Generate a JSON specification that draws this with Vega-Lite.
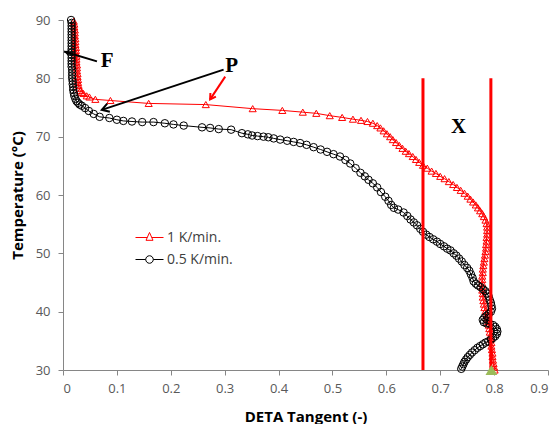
{
  "$schema": "https://vega.github.io/schema/vega-lite/v6.json",
  "width": 485,
  "height": 350,
  "autosize": {"type": "none"},
  "padding": {"left": 63, "top": 20, "right": 9, "bottom": 54},
  "background": "white",
  "datasets": {
    "series": [
      {"s":"1 K/min.","i":1,"x":0.020,"t":89.8},{"s":"1 K/min.","i":2,"x":0.021,"t":89.3},{"s":"1 K/min.","i":3,"x":0.021,"t":88.8},{"s":"1 K/min.","i":4,"x":0.022,"t":88.3},{"s":"1 K/min.","i":5,"x":0.022,"t":87.8},{"s":"1 K/min.","i":6,"x":0.022,"t":87.3},{"s":"1 K/min.","i":7,"x":0.023,"t":86.8},{"s":"1 K/min.","i":8,"x":0.023,"t":86.3},{"s":"1 K/min.","i":9,"x":0.023,"t":85.8},{"s":"1 K/min.","i":10,"x":0.024,"t":85.3},{"s":"1 K/min.","i":11,"x":0.024,"t":84.8},{"s":"1 K/min.","i":12,"x":0.024,"t":84.3},{"s":"1 K/min.","i":13,"x":0.025,"t":83.8},{"s":"1 K/min.","i":14,"x":0.025,"t":83.3},{"s":"1 K/min.","i":15,"x":0.025,"t":82.8},{"s":"1 K/min.","i":16,"x":0.026,"t":82.3},{"s":"1 K/min.","i":17,"x":0.026,"t":81.8},{"s":"1 K/min.","i":18,"x":0.026,"t":81.3},{"s":"1 K/min.","i":19,"x":0.027,"t":80.8},{"s":"1 K/min.","i":20,"x":0.027,"t":80.3},{"s":"1 K/min.","i":21,"x":0.028,"t":79.8},{"s":"1 K/min.","i":22,"x":0.028,"t":79.3},{"s":"1 K/min.","i":23,"x":0.029,"t":78.8},{"s":"1 K/min.","i":24,"x":0.030,"t":78.3},{"s":"1 K/min.","i":25,"x":0.032,"t":77.9},{"s":"1 K/min.","i":26,"x":0.035,"t":77.6},{"s":"1 K/min.","i":27,"x":0.038,"t":77.4},{"s":"1 K/min.","i":28,"x":0.044,"t":77.0},{"s":"1 K/min.","i":29,"x":0.049,"t":76.8},{"s":"1 K/min.","i":30,"x":0.060,"t":76.4},{"s":"1 K/min.","i":31,"x":0.088,"t":76.2},{"s":"1 K/min.","i":32,"x":0.159,"t":75.7},{"s":"1 K/min.","i":33,"x":0.265,"t":75.5},{"s":"1 K/min.","i":34,"x":0.352,"t":74.8},{"s":"1 K/min.","i":35,"x":0.407,"t":74.5},{"s":"1 K/min.","i":36,"x":0.445,"t":74.2},{"s":"1 K/min.","i":37,"x":0.470,"t":74.0},{"s":"1 K/min.","i":38,"x":0.495,"t":73.6},{"s":"1 K/min.","i":39,"x":0.518,"t":73.3},{"s":"1 K/min.","i":40,"x":0.538,"t":73.0},{"s":"1 K/min.","i":41,"x":0.553,"t":72.8},{"s":"1 K/min.","i":42,"x":0.565,"t":72.6},{"s":"1 K/min.","i":43,"x":0.575,"t":72.3},{"s":"1 K/min.","i":44,"x":0.583,"t":71.9},{"s":"1 K/min.","i":45,"x":0.589,"t":71.5},{"s":"1 K/min.","i":46,"x":0.595,"t":71.0},{"s":"1 K/min.","i":47,"x":0.601,"t":70.5},{"s":"1 K/min.","i":48,"x":0.607,"t":70.0},{"s":"1 K/min.","i":49,"x":0.612,"t":69.5},{"s":"1 K/min.","i":50,"x":0.618,"t":69.0},{"s":"1 K/min.","i":51,"x":0.624,"t":68.5},{"s":"1 K/min.","i":52,"x":0.630,"t":68.0},{"s":"1 K/min.","i":53,"x":0.636,"t":67.5},{"s":"1 K/min.","i":54,"x":0.642,"t":67.1},{"s":"1 K/min.","i":55,"x":0.649,"t":66.6},{"s":"1 K/min.","i":56,"x":0.655,"t":66.1},{"s":"1 K/min.","i":57,"x":0.661,"t":65.6},{"s":"1 K/min.","i":58,"x":0.668,"t":65.1},{"s":"1 K/min.","i":59,"x":0.676,"t":64.6},{"s":"1 K/min.","i":60,"x":0.684,"t":64.1},{"s":"1 K/min.","i":61,"x":0.692,"t":63.7},{"s":"1 K/min.","i":62,"x":0.700,"t":63.2},{"s":"1 K/min.","i":63,"x":0.708,"t":62.8},{"s":"1 K/min.","i":64,"x":0.716,"t":62.3},{"s":"1 K/min.","i":65,"x":0.724,"t":61.8},{"s":"1 K/min.","i":66,"x":0.731,"t":61.3},{"s":"1 K/min.","i":67,"x":0.738,"t":60.8},{"s":"1 K/min.","i":68,"x":0.745,"t":60.3},{"s":"1 K/min.","i":69,"x":0.751,"t":59.8},{"s":"1 K/min.","i":70,"x":0.756,"t":59.3},{"s":"1 K/min.","i":71,"x":0.761,"t":58.8},{"s":"1 K/min.","i":72,"x":0.766,"t":58.3},{"s":"1 K/min.","i":73,"x":0.770,"t":57.8},{"s":"1 K/min.","i":74,"x":0.774,"t":57.3},{"s":"1 K/min.","i":75,"x":0.778,"t":56.8},{"s":"1 K/min.","i":76,"x":0.781,"t":56.3},{"s":"1 K/min.","i":77,"x":0.784,"t":55.7},{"s":"1 K/min.","i":78,"x":0.786,"t":55.1},{"s":"1 K/min.","i":79,"x":0.787,"t":54.5},{"s":"1 K/min.","i":80,"x":0.787,"t":53.9},{"s":"1 K/min.","i":81,"x":0.787,"t":53.3},{"s":"1 K/min.","i":82,"x":0.786,"t":52.7},{"s":"1 K/min.","i":83,"x":0.786,"t":52.1},{"s":"1 K/min.","i":84,"x":0.785,"t":51.5},{"s":"1 K/min.","i":85,"x":0.785,"t":50.9},{"s":"1 K/min.","i":86,"x":0.784,"t":50.3},{"s":"1 K/min.","i":87,"x":0.783,"t":49.7},{"s":"1 K/min.","i":88,"x":0.782,"t":49.1},{"s":"1 K/min.","i":89,"x":0.781,"t":48.5},{"s":"1 K/min.","i":90,"x":0.780,"t":47.9},{"s":"1 K/min.","i":91,"x":0.779,"t":47.3},{"s":"1 K/min.","i":92,"x":0.779,"t":46.7},{"s":"1 K/min.","i":93,"x":0.778,"t":46.1},{"s":"1 K/min.","i":94,"x":0.778,"t":45.5},{"s":"1 K/min.","i":95,"x":0.778,"t":44.9},{"s":"1 K/min.","i":96,"x":0.778,"t":44.3},{"s":"1 K/min.","i":97,"x":0.778,"t":43.7},{"s":"1 K/min.","i":98,"x":0.779,"t":43.1},{"s":"1 K/min.","i":99,"x":0.779,"t":42.5},{"s":"1 K/min.","i":100,"x":0.780,"t":41.9},{"s":"1 K/min.","i":101,"x":0.781,"t":41.3},{"s":"1 K/min.","i":102,"x":0.782,"t":40.7},{"s":"1 K/min.","i":103,"x":0.784,"t":40.1},{"s":"1 K/min.","i":104,"x":0.786,"t":39.5},{"s":"1 K/min.","i":105,"x":0.787,"t":38.9},{"s":"1 K/min.","i":106,"x":0.789,"t":38.3},{"s":"1 K/min.","i":107,"x":0.790,"t":37.7},{"s":"1 K/min.","i":108,"x":0.791,"t":37.1},{"s":"1 K/min.","i":109,"x":0.792,"t":36.5},{"s":"1 K/min.","i":110,"x":0.793,"t":35.9},{"s":"1 K/min.","i":111,"x":0.794,"t":35.3},{"s":"1 K/min.","i":112,"x":0.795,"t":34.7},{"s":"1 K/min.","i":113,"x":0.795,"t":34.1},{"s":"1 K/min.","i":114,"x":0.796,"t":33.5},{"s":"1 K/min.","i":115,"x":0.797,"t":32.9},{"s":"1 K/min.","i":116,"x":0.797,"t":32.3},{"s":"1 K/min.","i":117,"x":0.798,"t":31.7},{"s":"1 K/min.","i":118,"x":0.799,"t":31.1},{"s":"1 K/min.","i":119,"x":0.800,"t":30.5},{"s":"1 K/min.","i":120,"x":0.801,"t":30.0},
      {"s":"0.5 K/min.","i":201,"x":0.015,"t":90.0},{"s":"0.5 K/min.","i":202,"x":0.016,"t":89.5},{"s":"0.5 K/min.","i":203,"x":0.016,"t":89.0},{"s":"0.5 K/min.","i":204,"x":0.016,"t":88.5},{"s":"0.5 K/min.","i":205,"x":0.016,"t":88.0},{"s":"0.5 K/min.","i":206,"x":0.016,"t":87.5},{"s":"0.5 K/min.","i":207,"x":0.016,"t":87.0},{"s":"0.5 K/min.","i":208,"x":0.016,"t":86.5},{"s":"0.5 K/min.","i":209,"x":0.016,"t":86.0},{"s":"0.5 K/min.","i":210,"x":0.016,"t":85.5},{"s":"0.5 K/min.","i":211,"x":0.016,"t":85.0},{"s":"0.5 K/min.","i":212,"x":0.016,"t":84.5},{"s":"0.5 K/min.","i":213,"x":0.016,"t":84.0},{"s":"0.5 K/min.","i":214,"x":0.016,"t":83.5},{"s":"0.5 K/min.","i":215,"x":0.016,"t":83.0},{"s":"0.5 K/min.","i":216,"x":0.016,"t":82.5},{"s":"0.5 K/min.","i":217,"x":0.016,"t":82.0},{"s":"0.5 K/min.","i":218,"x":0.017,"t":81.5},{"s":"0.5 K/min.","i":219,"x":0.017,"t":81.0},{"s":"0.5 K/min.","i":220,"x":0.017,"t":80.5},{"s":"0.5 K/min.","i":221,"x":0.017,"t":80.0},{"s":"0.5 K/min.","i":222,"x":0.018,"t":79.5},{"s":"0.5 K/min.","i":223,"x":0.018,"t":79.0},{"s":"0.5 K/min.","i":224,"x":0.019,"t":78.5},{"s":"0.5 K/min.","i":225,"x":0.019,"t":78.0},{"s":"0.5 K/min.","i":226,"x":0.020,"t":77.5},{"s":"0.5 K/min.","i":227,"x":0.021,"t":77.0},{"s":"0.5 K/min.","i":228,"x":0.023,"t":76.5},{"s":"0.5 K/min.","i":229,"x":0.025,"t":76.1},{"s":"0.5 K/min.","i":230,"x":0.028,"t":75.8},{"s":"0.5 K/min.","i":231,"x":0.031,"t":75.5},{"s":"0.5 K/min.","i":232,"x":0.035,"t":75.3},{"s":"0.5 K/min.","i":233,"x":0.041,"t":74.9},{"s":"0.5 K/min.","i":234,"x":0.048,"t":74.4},{"s":"0.5 K/min.","i":235,"x":0.057,"t":73.9},{"s":"0.5 K/min.","i":236,"x":0.068,"t":73.4},{"s":"0.5 K/min.","i":237,"x":0.086,"t":73.2},{"s":"0.5 K/min.","i":238,"x":0.100,"t":72.9},{"s":"0.5 K/min.","i":239,"x":0.112,"t":72.7},{"s":"0.5 K/min.","i":240,"x":0.128,"t":72.6},{"s":"0.5 K/min.","i":241,"x":0.147,"t":72.5},{"s":"0.5 K/min.","i":242,"x":0.168,"t":72.5},{"s":"0.5 K/min.","i":243,"x":0.189,"t":72.3},{"s":"0.5 K/min.","i":244,"x":0.205,"t":72.1},{"s":"0.5 K/min.","i":245,"x":0.224,"t":71.9},{"s":"0.5 K/min.","i":246,"x":0.258,"t":71.6},{"s":"0.5 K/min.","i":247,"x":0.273,"t":71.5},{"s":"0.5 K/min.","i":248,"x":0.289,"t":71.3},{"s":"0.5 K/min.","i":249,"x":0.312,"t":71.2},{"s":"0.5 K/min.","i":250,"x":0.332,"t":70.6},{"s":"0.5 K/min.","i":251,"x":0.343,"t":70.4},{"s":"0.5 K/min.","i":252,"x":0.351,"t":70.2},{"s":"0.5 K/min.","i":253,"x":0.361,"t":70.1},{"s":"0.5 K/min.","i":254,"x":0.372,"t":70.0},{"s":"0.5 K/min.","i":255,"x":0.381,"t":69.9},{"s":"0.5 K/min.","i":256,"x":0.391,"t":69.7},{"s":"0.5 K/min.","i":257,"x":0.403,"t":69.5},{"s":"0.5 K/min.","i":258,"x":0.416,"t":69.3},{"s":"0.5 K/min.","i":259,"x":0.428,"t":69.1},{"s":"0.5 K/min.","i":260,"x":0.440,"t":68.9},{"s":"0.5 K/min.","i":261,"x":0.452,"t":68.6},{"s":"0.5 K/min.","i":262,"x":0.465,"t":68.2},{"s":"0.5 K/min.","i":263,"x":0.478,"t":67.8},{"s":"0.5 K/min.","i":264,"x":0.490,"t":67.4},{"s":"0.5 K/min.","i":265,"x":0.502,"t":67.0},{"s":"0.5 K/min.","i":266,"x":0.514,"t":66.6},{"s":"0.5 K/min.","i":267,"x":0.524,"t":66.0},{"s":"0.5 K/min.","i":268,"x":0.533,"t":65.4},{"s":"0.5 K/min.","i":269,"x":0.543,"t":64.6},{"s":"0.5 K/min.","i":270,"x":0.552,"t":63.8},{"s":"0.5 K/min.","i":271,"x":0.560,"t":63.2},{"s":"0.5 K/min.","i":272,"x":0.567,"t":62.6},{"s":"0.5 K/min.","i":273,"x":0.575,"t":62.0},{"s":"0.5 K/min.","i":274,"x":0.583,"t":61.3},{"s":"0.5 K/min.","i":275,"x":0.590,"t":60.5},{"s":"0.5 K/min.","i":276,"x":0.598,"t":59.7},{"s":"0.5 K/min.","i":277,"x":0.604,"t":59.0},{"s":"0.5 K/min.","i":278,"x":0.609,"t":58.3},{"s":"0.5 K/min.","i":279,"x":0.614,"t":57.8},{"s":"0.5 K/min.","i":280,"x":0.622,"t":57.5},{"s":"0.5 K/min.","i":281,"x":0.632,"t":57.0},{"s":"0.5 K/min.","i":282,"x":0.639,"t":56.4},{"s":"0.5 K/min.","i":283,"x":0.645,"t":55.8},{"s":"0.5 K/min.","i":284,"x":0.651,"t":55.3},{"s":"0.5 K/min.","i":285,"x":0.657,"t":54.8},{"s":"0.5 K/min.","i":286,"x":0.663,"t":54.2},{"s":"0.5 K/min.","i":287,"x":0.668,"t":53.7},{"s":"0.5 K/min.","i":288,"x":0.674,"t":53.2},{"s":"0.5 K/min.","i":289,"x":0.680,"t":52.8},{"s":"0.5 K/min.","i":290,"x":0.687,"t":52.4},{"s":"0.5 K/min.","i":291,"x":0.694,"t":52.0},{"s":"0.5 K/min.","i":292,"x":0.700,"t":51.6},{"s":"0.5 K/min.","i":293,"x":0.707,"t":51.2},{"s":"0.5 K/min.","i":294,"x":0.713,"t":50.8},{"s":"0.5 K/min.","i":295,"x":0.719,"t":50.5},{"s":"0.5 K/min.","i":296,"x":0.725,"t":50.0},{"s":"0.5 K/min.","i":297,"x":0.730,"t":49.6},{"s":"0.5 K/min.","i":298,"x":0.735,"t":49.1},{"s":"0.5 K/min.","i":299,"x":0.740,"t":48.6},{"s":"0.5 K/min.","i":300,"x":0.745,"t":48.0},{"s":"0.5 K/min.","i":301,"x":0.750,"t":47.5},{"s":"0.5 K/min.","i":302,"x":0.754,"t":47.0},{"s":"0.5 K/min.","i":303,"x":0.757,"t":46.4},{"s":"0.5 K/min.","i":304,"x":0.760,"t":45.8},{"s":"0.5 K/min.","i":305,"x":0.762,"t":45.2},{"s":"0.5 K/min.","i":306,"x":0.766,"t":44.8},{"s":"0.5 K/min.","i":307,"x":0.770,"t":44.5},{"s":"0.5 K/min.","i":308,"x":0.775,"t":44.2},{"s":"0.5 K/min.","i":309,"x":0.780,"t":43.8},{"s":"0.5 K/min.","i":310,"x":0.784,"t":43.5},{"s":"0.5 K/min.","i":311,"x":0.787,"t":43.1},{"s":"0.5 K/min.","i":312,"x":0.790,"t":42.6},{"s":"0.5 K/min.","i":313,"x":0.792,"t":42.0},{"s":"0.5 K/min.","i":314,"x":0.794,"t":41.5},{"s":"0.5 K/min.","i":315,"x":0.795,"t":41.0},{"s":"0.5 K/min.","i":316,"x":0.796,"t":40.5},{"s":"0.5 K/min.","i":317,"x":0.794,"t":40.0},{"s":"0.5 K/min.","i":318,"x":0.790,"t":39.6},{"s":"0.5 K/min.","i":319,"x":0.786,"t":39.3},{"s":"0.5 K/min.","i":320,"x":0.782,"t":39.0},{"s":"0.5 K/min.","i":321,"x":0.779,"t":38.6},{"s":"0.5 K/min.","i":322,"x":0.781,"t":38.2},{"s":"0.5 K/min.","i":323,"x":0.786,"t":38.0},{"s":"0.5 K/min.","i":324,"x":0.792,"t":37.9},{"s":"0.5 K/min.","i":325,"x":0.798,"t":37.7},{"s":"0.5 K/min.","i":326,"x":0.802,"t":37.4},{"s":"0.5 K/min.","i":327,"x":0.805,"t":37.0},{"s":"0.5 K/min.","i":328,"x":0.806,"t":36.6},{"s":"0.5 K/min.","i":329,"x":0.805,"t":36.2},{"s":"0.5 K/min.","i":330,"x":0.802,"t":35.8},{"s":"0.5 K/min.","i":331,"x":0.798,"t":35.5},{"s":"0.5 K/min.","i":332,"x":0.794,"t":35.2},{"s":"0.5 K/min.","i":333,"x":0.789,"t":34.9},{"s":"0.5 K/min.","i":334,"x":0.784,"t":34.7},{"s":"0.5 K/min.","i":335,"x":0.779,"t":34.4},{"s":"0.5 K/min.","i":336,"x":0.774,"t":34.1},{"s":"0.5 K/min.","i":337,"x":0.769,"t":33.8},{"s":"0.5 K/min.","i":338,"x":0.764,"t":33.4},{"s":"0.5 K/min.","i":339,"x":0.759,"t":33.0},{"s":"0.5 K/min.","i":340,"x":0.755,"t":32.6},{"s":"0.5 K/min.","i":341,"x":0.751,"t":32.2},{"s":"0.5 K/min.","i":342,"x":0.748,"t":31.8},{"s":"0.5 K/min.","i":343,"x":0.745,"t":31.4},{"s":"0.5 K/min.","i":344,"x":0.743,"t":31.0},{"s":"0.5 K/min.","i":345,"x":0.741,"t":30.6},{"s":"0.5 K/min.","i":346,"x":0.739,"t":30.2}
    ],
    "vlines": [{"x": 0.668, "t0": 30, "t1": 80}, {"x": 0.794, "t0": 30, "t1": 80}],
    "marker": [{"x": 0.795, "t": 30}],
    "arrows": [
      {"name": "F", "x": 0.063, "t": 82.9, "x2": 0.002, "t2": 84.6},
      {"name": "Pblack", "x": 0.298, "t": 81.5, "x2": 0.072, "t2": 74.6},
      {"name": "Pred", "x": 0.301, "t": 80.3, "x2": 0.273, "t2": 76.4}
    ],
    "labels": [
      {"label": "F", "x": 0.082, "t": 83.0},
      {"label": "P", "x": 0.313, "t": 82.1},
      {"label": "X", "x": 0.734, "t": 71.7}
    ]
  },
  "layer": [
    {
      "data": {"name": "series"},
      "transform": [{"filter": "datum.s === '1 K/min.'"}],
      "mark": {"type": "line", "strokeWidth": 1, "color": "#FF0000"},
      "encoding": {
        "x": {"field": "x", "type": "quantitative", "scale": {"domain": [0, 0.9], "nice": false},
              "axis": {"values": [0, 0.1, 0.2, 0.3, 0.4, 0.5, 0.6, 0.7, 0.8, 0.9], "format": "~g", "title": "DETA Tangent (-)", "labelPadding": 7, "titlePadding": 14}},
        "y": {"field": "t", "type": "quantitative", "scale": {"domain": [30, 90], "nice": false},
              "axis": {"values": [30, 40, 50, 60, 70, 80, 90], "title": "Temperature (°C)", "labelPadding": 8, "titlePadding": 10}},
        "order": {"field": "i", "type": "quantitative"}
      }
    },
    {
      "data": {"name": "series"},
      "transform": [{"filter": "datum.s === '1 K/min.'"}],
      "mark": {"type": "point", "shape": "triangle-up", "filled": false, "strokeWidth": 1, "opacity": 1, "color": "#FF0000", "size": 50},
      "encoding": {
        "x": {"field": "x", "type": "quantitative"},
        "y": {"field": "t", "type": "quantitative"}
      }
    },
    {
      "data": {"name": "series"},
      "transform": [{"filter": "datum.s === '0.5 K/min.'"}],
      "mark": {"type": "line", "strokeWidth": 1, "color": "#000000"},
      "encoding": {
        "x": {"field": "x", "type": "quantitative"},
        "y": {"field": "t", "type": "quantitative"},
        "order": {"field": "i", "type": "quantitative"}
      }
    },
    {
      "data": {"name": "series"},
      "transform": [{"filter": "datum.s === '0.5 K/min.'"}],
      "mark": {"type": "point", "shape": "circle", "filled": false, "strokeWidth": 1, "opacity": 1, "color": "#000000", "size": 56},
      "encoding": {
        "x": {"field": "x", "type": "quantitative"},
        "y": {"field": "t", "type": "quantitative"}
      }
    },
    {
      "data": {"name": "series"},
      "transform": [{"filter": "false"}],
      "mark": {"type": "point", "filled": false, "opacity": 1},
      "encoding": {
        "x": {"field": "x", "type": "quantitative"},
        "y": {"field": "t", "type": "quantitative"},
        "color": {"field": "s", "type": "nominal",
                  "scale": {"domain": ["1 K/min.", "0.5 K/min."], "range": ["#FF0000", "#000000"]},
                  "legend": {
                    "orient": "none", "legendX": 72, "legendY": 203, "title": null,
                    "padding": 0, "symbolSize": 784, "symbolStrokeWidth": 1, "rowPadding": 0,
                    "labelFontSize": 14, "labelColor": "#404040", "labelOffset": 3, "labelFont": "Open Sans"
                  }},
        "shape": {"field": "s", "type": "nominal",
                  "scale": {"domain": ["1 K/min.", "0.5 K/min."],
                            "range": ["M-1,0H-0.16M0.16,0H1M0,-0.36L0.25,0.2L-0.25,0.2Z", "M-1,0H-0.27M0.27,0H1M0.27,0A0.27,0.27 0 1,1 -0.27,0A0.27,0.27 0 1,1 0.27,0Z"]}}
      }
    },
    {
      "data": {"name": "vlines"},
      "mark": {"type": "rule", "color": "#FF0000", "strokeWidth": 3},
      "encoding": {
        "x": {"field": "x", "type": "quantitative"},
        "y": {"field": "t0", "type": "quantitative"},
        "y2": {"field": "t1"}
      }
    },
    {
      "data": {"name": "marker"},
      "mark": {"type": "point", "shape": "triangle-up", "filled": true, "color": "#9BBB59", "size": 140, "opacity": 1},
      "encoding": {
        "x": {"field": "x", "type": "quantitative"},
        "y": {"field": "t", "type": "quantitative"}
      }
    },
    {
      "data": {"name": "arrows"},
      "transform": [{"filter": "datum.name !== 'Pred'"}],
      "mark": {"type": "rule", "color": "#000000", "strokeWidth": 2},
      "encoding": {
        "x": {"field": "x", "type": "quantitative"},
        "y": {"field": "t", "type": "quantitative"},
        "x2": {"field": "x2"},
        "y2": {"field": "t2"}
      }
    },
    {
      "data": {"name": "arrows"},
      "transform": [{"filter": "datum.name === 'Pred'"}],
      "mark": {"type": "rule", "color": "#FF0000", "strokeWidth": 2},
      "encoding": {
        "x": {"field": "x", "type": "quantitative"},
        "y": {"field": "t", "type": "quantitative"},
        "x2": {"field": "x2"},
        "y2": {"field": "t2"}
      }
    },
    {
      "data": {"name": "arrows"},
      "transform": [{"filter": "datum.name === 'F'"}],
      "mark": {"type": "point", "shape": "M0,0L-1,-0.6L-1,0.6Z", "filled": true, "color": "#000000", "size": 100, "angle": 196.7, "opacity": 1},
      "encoding": {
        "x": {"field": "x2", "type": "quantitative"},
        "y": {"field": "t2", "type": "quantitative"}
      }
    },
    {
      "data": {"name": "arrows"},
      "transform": [{"filter": "datum.name === 'Pblack'"}],
      "mark": {"type": "point", "shape": "M-1,-0.6L0,0L-1,0.6", "filled": false, "color": "#000000", "strokeWidth": 2, "size": 200, "angle": 161.8, "opacity": 1},
      "encoding": {
        "x": {"field": "x2", "type": "quantitative"},
        "y": {"field": "t2", "type": "quantitative"}
      }
    },
    {
      "data": {"name": "arrows"},
      "transform": [{"filter": "datum.name === 'Pred'"}],
      "mark": {"type": "point", "shape": "M-1,-0.6L0,0L-1,0.6", "filled": false, "color": "#FF0000", "strokeWidth": 2, "size": 120, "angle": 123.6, "opacity": 1},
      "encoding": {
        "x": {"field": "x2", "type": "quantitative"},
        "y": {"field": "t2", "type": "quantitative"}
      }
    },
    {
      "data": {"name": "labels"},
      "mark": {"type": "text", "font": "Liberation Serif", "fontWeight": "bold", "fontSize": 21, "color": "#000000", "align": "center", "baseline": "middle"},
      "encoding": {
        "x": {"field": "x", "type": "quantitative"},
        "y": {"field": "t", "type": "quantitative"},
        "text": {"field": "label"}
      }
    }
  ],
  "config": {
    "view": {"stroke": null},
    "font": "Open Sans",
    "axis": {
      "grid": false, "domainColor": "#868686", "tickColor": "#868686", "tickSize": 5,
      "labelColor": "#595959", "labelFontSize": 13, "labelFont": "Open Sans",
      "titleFont": "Open Sans", "titleFontSize": 15, "titleFontWeight": "bold", "titleColor": "#000000"
    }
  }
}
